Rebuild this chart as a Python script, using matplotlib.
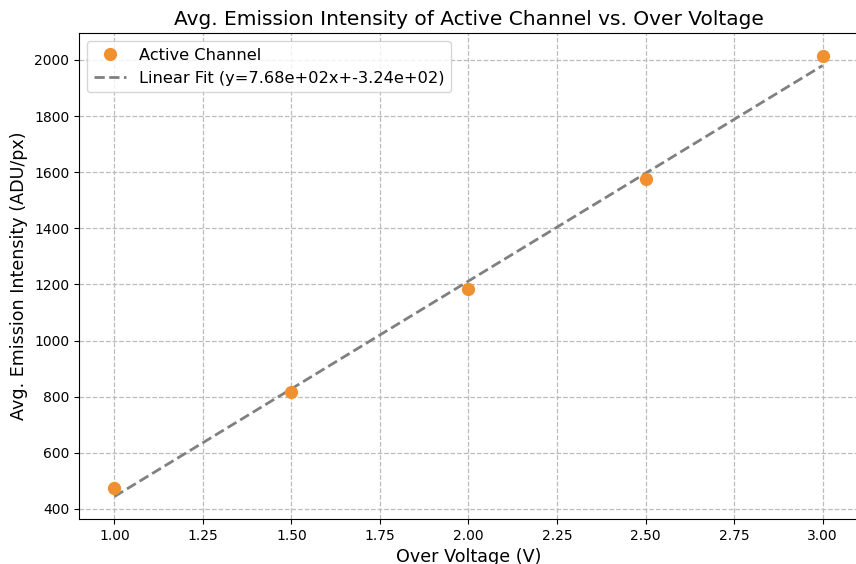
import numpy as np
import matplotlib
matplotlib.use("Agg")
import matplotlib.pyplot as plt

# Measured average emission intensity of the active channel
over_voltage = [1.0, 1.5, 2.0, 2.5, 3.0]
intensity = [474, 815, 1182, 1575, 2014]

slope, intercept = np.polyfit(over_voltage, intensity, 1)
fit_x = np.array(over_voltage)
fit_y = slope * fit_x + intercept

fig = plt.figure(figsize=(8.56, 5.64), dpi=100)
W, H = 856, 564
left, right, top, bottom = 79, 858, 33, 519
ax = fig.add_axes([left / W, 1 - bottom / H, (right - left) / W, (bottom - top) / H])

ax.plot(over_voltage, intensity, "o", color="#f0902f", markersize=8.5,
        label="Active Channel", zorder=3)
ax.plot(fit_x, fit_y, "--", color="gray", linewidth=2,
        label=f"Linear Fit (y={slope:.2e}x+{intercept:.2e})", zorder=2)

ax.set_xlim(0.9, 3.1)
ax.set_ylim(364, 2096)
ax.set_xticks(np.arange(1.0, 3.01, 0.25))
ax.set_yticks(np.arange(400, 2001, 200))
ax.grid(True, linestyle="--", color="#bcbcbc", linewidth=0.9)
ax.set_axisbelow(True)

ax.set_title("Avg. Emission Intensity of Active Channel vs. Over Voltage", fontsize=14.5)
ax.set_xlabel("Over Voltage (V)", fontsize=12.6)
ax.set_ylabel("Avg. Emission Intensity (ADU/px)", fontsize=12.6)
ax.legend(loc="upper left", fontsize=11.7)

fig.savefig("out.png", dpi=100)
